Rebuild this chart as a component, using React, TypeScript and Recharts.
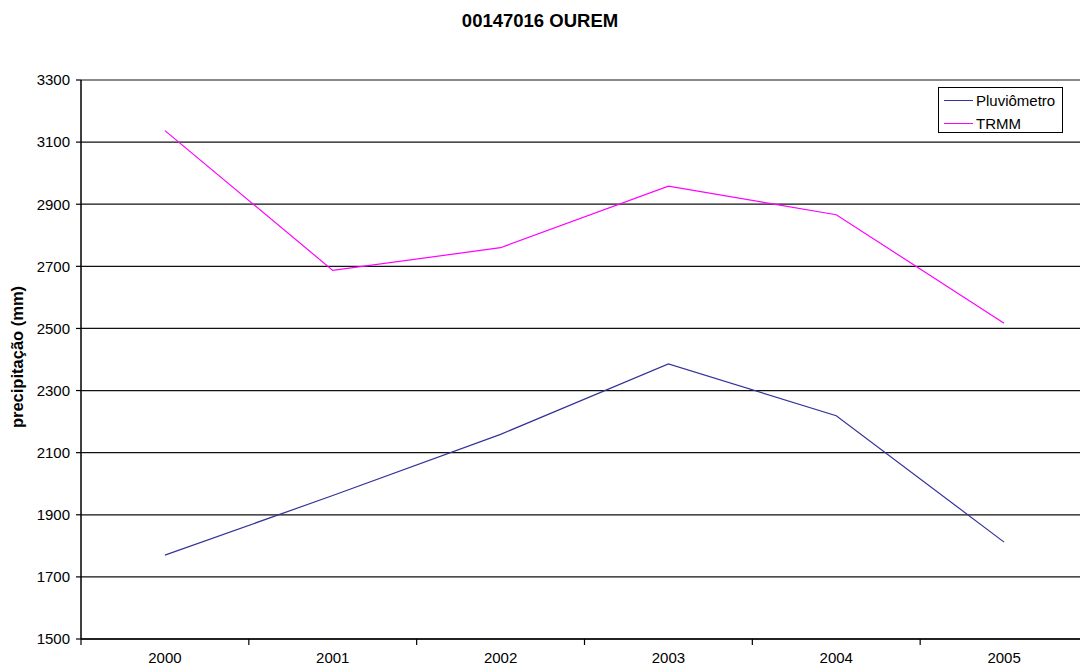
import React from 'react';
import { LineChart, Line, XAxis, YAxis, CartesianGrid, ReferenceLine } from 'recharts';

const years = [2000, 2001, 2002, 2003, 2004, 2005];
const pluviometro = [1770, 1962, 2159, 2386, 2219, 1812];
const trmm = [3137, 2687, 2760, 2958, 2866, 2517];
const yTicks = [1500, 1700, 1900, 2100, 2300, 2500, 2700, 2900, 3100, 3300];
const bandEdges = [1999.5, 2000.5, 2001.5, 2002.5, 2003.5, 2004.5, 2005.5];

const title = '00147016 OUREM';
const yLabel = 'precipitação (mm)';

const series = [
  { key: 'pluviometro', name: 'Pluviômetro', color: '#333399' },
  { key: 'trmm', name: 'TRMM', color: '#FF00FF' },
];

const data = years.map((y, i) => ({ year: y, pluviometro: pluviometro[i], trmm: trmm[i] }));

const font = 'Arial, "Liberation Sans", sans-serif';

const EmptyTick = () => <g />;

export default function App() {
  return (
    <div style={{ position: 'absolute', left: 0, top: 0, width: 1080, height: 671, overflow: 'hidden', background: '#fff', fontFamily: font }}>
      <div style={{ position: 'absolute', left: 0, top: 10, width: 1080, textAlign: 'center', fontWeight: 'bold', fontSize: 18.5, color: '#000' }}>
        {title}
      </div>
      <div style={{ position: 'absolute', left: 17, top: 357, width: 0, height: 0 }}>
        <div style={{ position: 'absolute', left: 0, top: 0, transform: 'translate(-50%, -50%) rotate(-90deg)', whiteSpace: 'nowrap', fontWeight: 'bold', fontSize: 16.5, color: '#000' }}>
          {yLabel}
        </div>
      </div>
      <LineChart width={1088} height={671} data={data} margin={{ top: 80, right: 0, bottom: 11, left: 21 }}>
        <CartesianGrid vertical={false} horizontal stroke="#111" strokeWidth={1.2} />
        <ReferenceLine y={3300} stroke="#8c8c8c" strokeWidth={1.2} ifOverflow="extendDomain" />
        <XAxis
          xAxisId="edges"
          dataKey="year"
          type="number"
          domain={[1999.5, 2005.5]}
          ticks={bandEdges}
          interval={0}
          height={1}
          tickSize={6}
          tick={EmptyTick}
          axisLine={{ stroke: '#000', strokeWidth: 1.5 }}
          tickLine={{ stroke: '#000', strokeWidth: 1.2 }}
          allowDataOverflow
        />
        <XAxis
          xAxisId="labels"
          dataKey="year"
          type="number"
          domain={[1999.5, 2005.5]}
          ticks={years}
          interval={0}
          height={20}
          tickSize={0}
          tickMargin={12}
          axisLine={false}
          tickLine={false}
          tick={{ fill: '#000', fontSize: 15, fontFamily: font }}
          allowDataOverflow
        />
        <YAxis
          domain={[1500, 3300]}
          ticks={yTicks}
          width={60}
          tickSize={5}
          tickMargin={6}
          axisLine={{ stroke: '#000', strokeWidth: 1.5 }}
          tickLine={{ stroke: '#000', strokeWidth: 1.2 }}
          tick={{ fill: '#000', fontSize: 15, fontFamily: font }}
          interval={0}
        />
        {series.map((s) => (
          <Line
            key={s.key}
            xAxisId="labels"
            type="linear"
            dataKey={s.key}
            name={s.name}
            stroke={s.color}
            strokeWidth={1.2}
            dot={false}
            activeDot={false}
            isAnimationActive={false}
          />
        ))}
      </LineChart>
      <div style={{ position: 'absolute', left: 938, top: 87, width: 123, height: 44, border: '1px solid #000', background: '#fff', fontSize: 15, color: '#000' }}>
        {series.map((s, i) => (
          <div key={s.key} style={{ position: 'absolute', left: 5, top: 3 + i * 23, height: 18, display: 'flex', alignItems: 'center', whiteSpace: 'nowrap' }}>
            <span style={{ display: 'inline-block', width: 29, height: 0, borderTop: `1.5px solid ${s.color}`, marginRight: 3 }} />
            <span>{s.name}</span>
          </div>
        ))}
      </div>
    </div>
  );
}
